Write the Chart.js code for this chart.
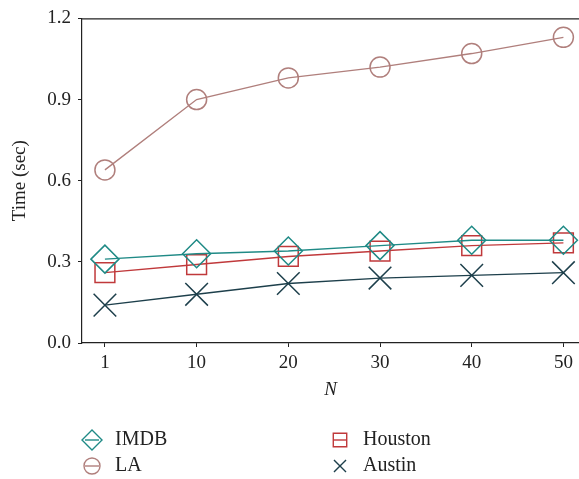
<!DOCTYPE html>
<html>
<head>
<meta charset="utf-8">
<script src="https://cdn.jsdelivr.net/npm/chart.js@4/dist/chart.umd.min.js"></script>
<style>
  html, body { margin: 0; padding: 0; background: #fff; }
  #wrap { width: 579px; height: 479px; }
</style>
</head>
<body>
<div id="wrap"><canvas id="chart"></canvas></div>
<script>
// N values on the x axis (drawn evenly spaced)
const nLabels = ['1', '10', '20', '30', '40', '50'];
const yTicks = [0, 0.3, 0.6, 0.9, 1.2];

// query time in seconds
const imdb = [0.31, 0.33, 0.34, 0.36, 0.38, 0.38];
const la = [0.64, 0.90, 0.98, 1.02, 1.07, 1.13];
const houston = [0.26, 0.29, 0.32, 0.34, 0.36, 0.37];
const austin = [0.14, 0.18, 0.22, 0.24, 0.25, 0.26];

const serif = "'Liberation Serif', 'DejaVu Serif', serif";
const axisColor = '#222';

function pts(vals) {
  return vals.map((v, i) => ({ x: i, y: v }));
}

function series(label, vals, color, style, radius, legendRadius) {
  return {
    label: label,
    data: pts(vals),
    borderColor: color,
    backgroundColor: 'rgba(0,0,0,0)',
    pointStyle: style,
    pointRadius: radius,
    pointHoverRadius: radius,
    pointBorderWidth: 1.5,
    pointBorderColor: color,
    borderWidth: 1.4,
    tension: 0,
    clip: false,
    legendRadius: legendRadius
  };
}

// top frame line over the plot
const topLine = {
  id: 'topLine',
  afterDraw(chart) {
    const a = chart.chartArea;
    const c = chart.ctx;
    c.save();
    c.strokeStyle = axisColor;
    c.lineWidth = 1.2;
    c.beginPath();
    c.moveTo(a.left, a.top + 0.5);
    c.lineTo(chart.width, a.top + 0.5);
    c.stroke();
    c.restore();
  }
};

// two-column legend below the x title, marker with a short line through it
const legendBox = {
  id: 'legendBox',
  afterDraw(chart) {
    const c = chart.ctx;
    const spots = [[92, 440], [92, 466], [340, 440], [340, 466]];
    c.save();
    chart.data.datasets.forEach((ds, k) => {
      const [x, y] = spots[k];
      c.strokeStyle = ds.borderColor;
      c.fillStyle = 'rgba(0,0,0,0)';
      c.lineWidth = 1.4;
      Chart.helpers.drawPoint(c, {
        pointStyle: ds.pointStyle,
        radius: ds.legendRadius,
        borderWidth: 1.4
      }, x, y);
      if (ds.pointStyle !== 'crossRot') {
        c.beginPath();
        c.moveTo(x - 7, y);
        c.lineTo(x + 7, y);
        c.stroke();
      }
      c.fillStyle = '#222';
      c.font = '20px ' + serif;
      c.textBaseline = 'middle';
      c.textAlign = 'left';
      c.fillText(ds.label, x + 23, y);
    });
    c.restore();
  }
};

const ctx = document.getElementById('chart').getContext('2d');
const myChart = new Chart(ctx, {
  type: 'line',
  data: {
    datasets: [
      series('IMDB', imdb, '#1f8a86', 'rectRot', 14, 10),
      series('LA', la, '#b07f7c', 'circle', 10, 8),
      series('Houston', houston, '#c0393b', 'rect', 14, 9.5),
      series('Austin', austin, '#1d3f4b', 'crossRot', 16, 8.5)
    ]
  },
  options: {
    responsive: true,
    maintainAspectRatio: false,
    animation: false,
    layout: {
      autoPadding: false,
      padding: { top: 16, right: 0, bottom: 78, left: 0 }
    },
    plugins: {
      legend: { display: false },
      tooltip: { enabled: false }
    },
    scales: {
      x: {
        type: 'linear',
        min: -0.25,
        max: 5.17,
        afterBuildTicks: (scale) => {
          scale.ticks = nLabels.map((l, i) => ({ value: i }));
        },
        afterFit: (scale) => {
          scale.height = 58;
          scale.paddingLeft = 0;
          scale.paddingRight = 0;
        },
        ticks: {
          callback: (v) => nLabels[v],
          color: '#222',
          font: { family: serif, size: 19 },
          padding: 5,
          maxRotation: 0
        },
        grid: {
          drawOnChartArea: false,
          drawTicks: true,
          tickLength: 4,
          color: axisColor
        },
        border: { display: true, color: axisColor, width: 1.2 },
        title: {
          display: true,
          text: 'N',
          color: '#222',
          font: { family: serif, size: 19, style: 'italic' },
          padding: { top: 0, bottom: 0 }
        }
      },
      y: {
        min: 0,
        max: 1.2,
        afterBuildTicks: (scale) => {
          scale.ticks = yTicks.map((v) => ({ value: v }));
        },
        afterFit: (scale) => { scale.width = 82; },
        ticks: {
          callback: (v) => v.toFixed(1),
          color: '#222',
          font: { family: serif, size: 19 },
          padding: 7
        },
        grid: {
          drawOnChartArea: false,
          drawTicks: true,
          tickLength: 4,
          color: axisColor
        },
        border: { display: true, color: axisColor, width: 1.2 },
        title: {
          display: true,
          text: 'Time (sec)',
          color: '#222',
          font: { family: serif, size: 19 },
          padding: { top: 9, bottom: 0 }
        }
      }
    }
  },
  plugins: [topLine, legendBox]
});
</script>
</body>
</html>
